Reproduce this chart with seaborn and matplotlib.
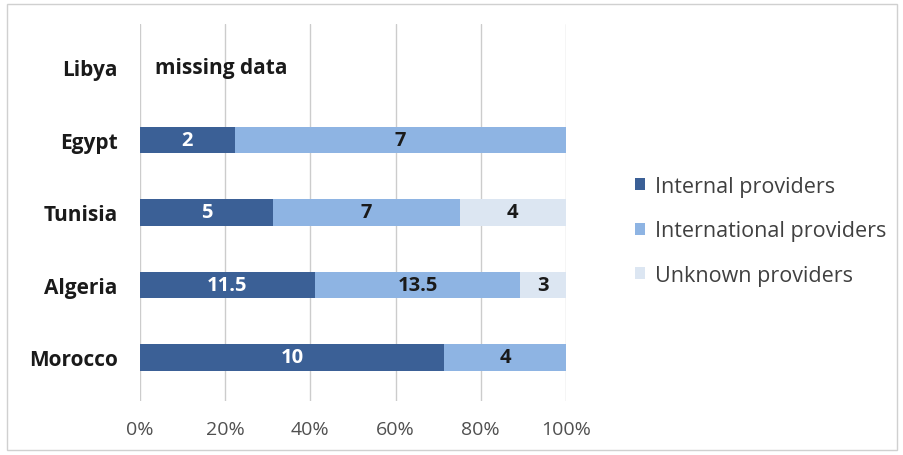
import numpy as np
import pandas as pd
import matplotlib
matplotlib.use("Agg")
import matplotlib.pyplot as plt
import seaborn as sns
from matplotlib.patches import Patch, Rectangle

countries = ["Libya", "Egypt", "Tunisia", "Algeria", "Morocco"]
internal = [np.nan, 2, 5, 11.5, 10]
international = [np.nan, 7, 7, 13.5, 4]
unknown = [np.nan, 0, 4, 3, 0]
series_names = ["Internal providers", "International providers", "Unknown providers"]
xticks = [0, 20, 40, 60, 80, 100]
missing_label = "missing data"

c_int, c_intl, c_unk = "#3B6096", "#8EB4E3", "#DCE6F2"

sns.set_theme(style="white")
plt.rcParams["font.family"] = ["Open Sans", "DejaVu Sans"]

df = pd.DataFrame({"country": countries, "internal": internal,
                   "international": international, "unknown": unknown})
tot = df[["internal", "international", "unknown"]].sum(axis=1, min_count=1)
df["p_int"] = df["internal"] / tot * 100
df["p_intl"] = df["international"] / tot * 100
df["p_unk"] = df["unknown"] / tot * 100
df["c1"] = df["p_int"]
df["c2"] = df["p_int"] + df["p_intl"]
df["c3"] = df["c2"] + df["p_unk"]

fig = plt.figure(figsize=(9.04, 4.56), dpi=100)
ax = fig.add_axes([140/904, 1-402/456, 426/904, 377/456])

w = 0.37
sns.barplot(data=df, x="c3", y="country", order=countries, color=c_unk, orient="h",
            width=w, saturation=1, ax=ax)
sns.barplot(data=df, x="c2", y="country", order=countries, color=c_intl, orient="h",
            width=w, saturation=1, ax=ax)
sns.barplot(data=df, x="c1", y="country", order=countries, color=c_int, orient="h",
            width=w, saturation=1, ax=ax)
for p in ax.patches:
    p.set_edgecolor("none")

ax.set_xlim(0, 100)
ax.set_ylim(4.6, -0.6)
ax.set_xticks(xticks)
ax.set_xticklabels([f"{t}%" for t in xticks], fontsize=14, color="#505050")
ax.set_yticklabels(countries, fontsize=15, fontweight="bold", color="#1a1a1a")
ax.tick_params(axis="y", length=0, pad=16)
ax.tick_params(axis="x", length=0, pad=14)
ax.set_xlabel("")
ax.set_ylabel("")
ax.grid(axis="x", color="#cccccc", linewidth=1)
ax.set_axisbelow(True)
for s in ax.spines.values():
    s.set_visible(False)

for i, row in df.iterrows():
    if np.isnan(row["p_int"]):
        ax.text(3.5, i, missing_label, ha="left", va="center", fontsize=15,
                fontweight="bold", color="#1a1a1a")
        continue
    segs = [(row["internal"], 0, row["c1"], "white"),
            (row["international"], row["c1"], row["c2"], "#1a1a1a"),
            (row["unknown"], row["c2"], row["c3"], "#1a1a1a")]
    for val, a, b, col in segs:
        if val and val > 0:
            lab = f"{val:g}"
            ax.text((a + b) / 2, i, lab, ha="center", va="center", fontsize=14.5,
                    fontweight="bold", color=col)

handles = [Patch(facecolor=c, edgecolor="none") for c in (c_int, c_intl, c_unk)]
fig.legend(handles, series_names, loc="upper left",
           bbox_to_anchor=(626/904, 1-168/456), frameon=False, fontsize=15.5,
           labelcolor="#404040", handlelength=0.5, handleheight=0.5,
           handletextpad=0.45, labelspacing=1.1, borderaxespad=0)

fig.patches.append(Rectangle((7/904, 5/456), 890/904, 446/456, transform=fig.transFigure,
                             fill=False, edgecolor="#d0d0d0", linewidth=1))

fig.savefig("out.png", dpi=100)
